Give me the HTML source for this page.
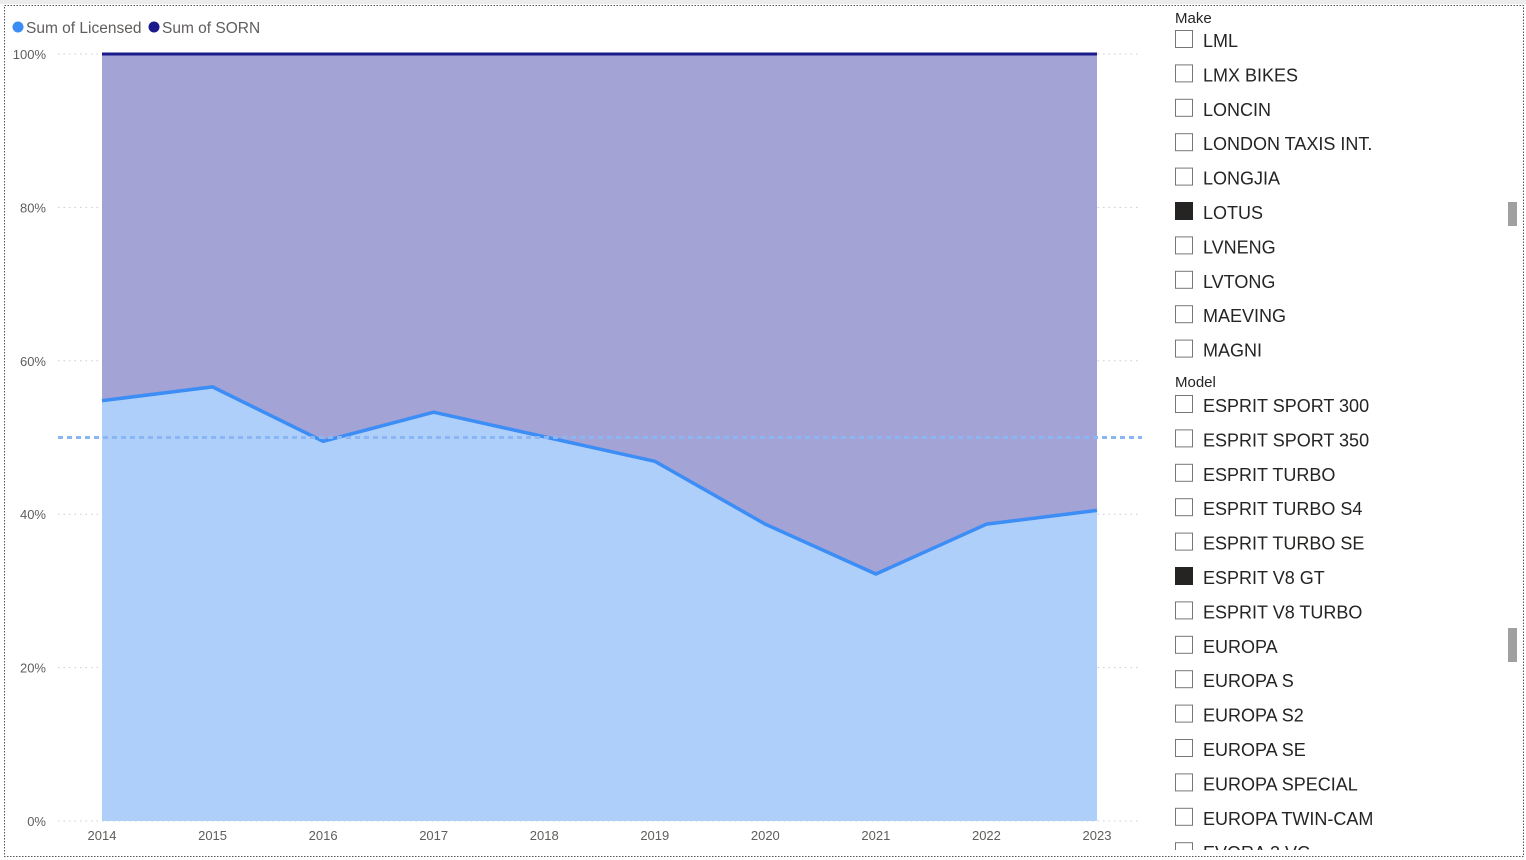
<!DOCTYPE html>
<html><head><meta charset="utf-8"><style>
body{margin:0;width:1526px;height:860px;overflow:hidden;background:#fff;font-family:"Liberation Sans",sans-serif;}
svg{position:absolute;left:0;top:0}
</style></head><body>
<svg width="1526" height="860">
<rect x="0" y="0" width="1526" height="4" fill="#ececec"/>
<rect x="4.5" y="5.5" width="1519" height="851" fill="none" stroke="#555" stroke-dasharray="1.5,1.5"/>
<g id="chart"></g>
<g id="slicer"></g>
</svg>
<script>
const years=["2014","2015","2016","2017","2018","2019","2020","2021","2022","2023"];
const licensedPct=[54.8,56.6,49.5,53.3,50.1,46.9,38.7,32.2,38.7,40.5];
const yTicks=[0,20,40,60,80,100];
const refLine=50;
const makes=["LML","LMX BIKES","LONCIN","LONDON TAXIS INT.","LONGJIA","LOTUS","LVNENG","LVTONG","MAEVING","MAGNI"];
const makeSel=[false,false,false,false,false,true,false,false,false,false];
const models=["ESPRIT SPORT 300","ESPRIT SPORT 350","ESPRIT TURBO","ESPRIT TURBO S4","ESPRIT TURBO SE","ESPRIT V8 GT","ESPRIT V8 TURBO","EUROPA","EUROPA S","EUROPA S2","EUROPA SE","EUROPA SPECIAL","EUROPA TWIN-CAM","EVORA 2 VC"];
const modelSel=[false,false,false,false,false,true,false,false,false,false,false,false,false,false];
const NS="http://www.w3.org/2000/svg";
function mk(p,t,a){const e=document.createElementNS(NS,t);for(const k in a)e.setAttribute(k,a[k]);p.appendChild(e);return e;}
const xs=i=>102+i*(1097-102)/(years.length-1);
const ys=v=>821-v*(821-54)/100;
const g=document.getElementById('chart');
yTicks.forEach(t=>{
 const l=mk(g,'line',{x1:58,x2:1140,y1:ys(t),y2:ys(t),stroke:'#ccc','stroke-dasharray':'1.5,4'});
 
 
 const tx=mk(g,'text',{x:46,y:ys(t)+5,'text-anchor':'end','font-size':13,fill:'#605e5c'});tx.textContent=t+'%';
 
 
});
const topPts=years.map((_,i)=>xs(i)+','+ys(100)).join(' ');
const licPts=years.map((_,i)=>xs(i)+','+ys(licensedPct[i])).join(' ');
const revLic=years.map((_,i)=>{const j=years.length-1-i;return xs(j)+','+ys(licensedPct[j]);}).join(' ');
const sorn=mk(g,'polygon',{points:topPts+' '+revLic,fill:'#a3a3d6'});


const la=mk(g,'polygon',{points:licPts+' '+xs(years.length-1)+','+ys(0)+' '+xs(0)+','+ys(0),fill:'#aecffa'});


const sl=mk(g,'polyline',{points:topPts,fill:'none',stroke:'#1a1a8c','stroke-width':3});


const ll=mk(g,'polyline',{points:licPts,fill:'none',stroke:'#3c8df5','stroke-width':3.5,'stroke-linejoin':'round'});


const rl=mk(g,'line',{x1:58,x2:1142,y1:ys(refLine),y2:ys(refLine),stroke:'#8ab6f5','stroke-width':3,'stroke-dasharray':'5,4'});


years.forEach((yr,i)=>{const t=mk(g,'text',{x:xs(i),y:840,'text-anchor':'middle','font-size':13,fill:'#605e5c'});t.textContent=yr;
 
 });
[['Sum of Licensed','#3c8df5',18,26],['Sum of SORN','#1a1a8c',154,162]].forEach(([n,c,cx,tx])=>{
 const lg=mk(g,'g',{});
 
 
 mk(lg,'circle',{cx:cx,cy:27,r:5.5,fill:c});
 const t=mk(lg,'text',{x:tx,y:33,'font-size':15.5,fill:'#605e5c'});t.textContent=n;});
const s=document.getElementById('slicer');
function hdr(txt,yy){const t=mk(s,'text',{x:1175,y:yy,'font-size':15,fill:'#252423'});t.textContent=txt;
 
 }
function items(parent,list,sel,y0){list.forEach((n,i)=>{const cy=y0+i*34.4;
 const it=mk(parent,'g',{});
 
 
 mk(it,'rect',{x:1175.5,y:cy-9.5,width:17,height:17,fill:sel[i]?'#252423':'#fff',stroke:sel[i]?'#252423':'#777','stroke-width':1});
 const t=mk(it,'text',{x:1203,y:cy+7,'font-size':18,fill:'#252423'});t.textContent=n;});}
hdr('Make',23);items(s,makes,makeSel,40);
hdr('Model',387);
const clip=mk(s,'clipPath',{id:'c'});mk(clip,'rect',{x:1160,y:390,width:360,height:460});
const mg=mk(s,'g',{'clip-path':'url(#c)'});
items(mg,models,modelSel,405);
[[202,24],[628,34]].forEach(([yy,h])=>{const r=mk(s,'rect',{x:1508,y:yy,width:9,height:h,fill:'#a0a0a0'});
 
 });
</script>
</body></html>
